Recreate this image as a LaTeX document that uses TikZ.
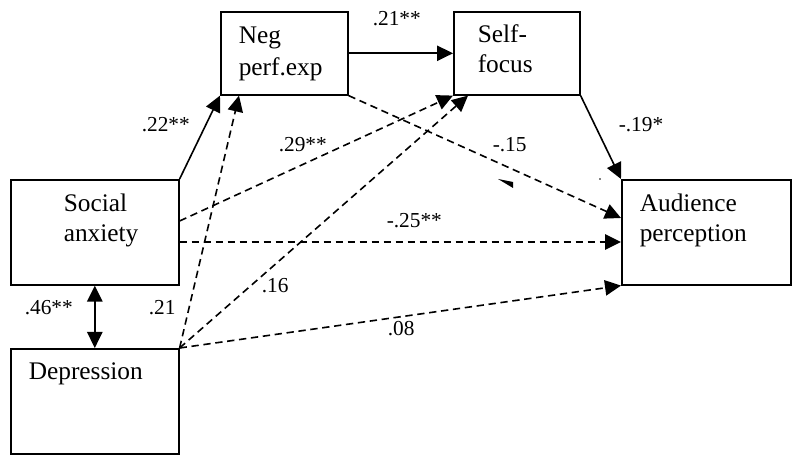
\documentclass[tikz,border=0pt]{standalone}
\usepackage{fontspec}
\setmainfont{Liberation Serif}
\usetikzlibrary{arrows.meta,calc}

\tikzset{every picture/.style={line width=1.2pt}}
\tikzset{
  varbox/.style={draw, inner sep=0pt, anchor=north west},
  boxtext/.style={anchor=base west, inner sep=0pt, align=left, font=\fontsize{19}{23}\selectfont},
  coef/.style={anchor=base west, inner sep=0pt, font=\fontsize{16}{19}\selectfont},
  direct/.style={-{Triangle[length=12pt,width=11.5pt]}},
  indirect/.style={direct, dash pattern={on 5.5pt off 3.5pt}},
}

\begin{document}
\begin{tikzpicture}[x=0.75pt,y=0.75pt,yscale=-1,xscale=1]
\useasboundingbox (0,0) rectangle (800,463);

%Shape: Rectangles
\node [varbox, minimum width=95.25pt, minimum height=62.25pt] (neg) at (220,11) {};
\node [varbox, minimum width=94.5pt, minimum height=62.25pt] (self) at (453,11) {};
\node [varbox, minimum width=126pt, minimum height=78.75pt] (soc) at (10,179) {};
\node [varbox, minimum width=126pt, minimum height=78.75pt] (dep) at (10,348) {};
\node [varbox, minimum width=126.75pt, minimum height=78.75pt] (aud) at (621,179) {};

% Text Node (anchored at baseline of last line)
\node [boxtext, font=\fontsize{19}{24}\selectfont] (negtxt) at (238,76) {Neg\\perf.exp};
% Text Node
\node [boxtext] (selftxt) at (477,73) {Self-\\focus};
% Text Node
\node [boxtext] (soctxt) at (63,242) {Social\\anxiety};
% Text Node
\node [boxtext] (deptxt) at (28,379) {Depression};
% Text Node
\node [boxtext] (audtxt) at (639,242) {Audience\\perception};

%Straight Lines
\draw [direct] (soc.north east) -- (neg.south west);
\draw [direct] (neg.east) -- (self.west);
\draw [direct] (self.south east) -- (aud.north west);
\draw [{Triangle[length=12pt,width=11.5pt]}-{Triangle[length=12pt,width=11.5pt]}] (soc.south) -- (dep.north);
%Straight Lines (dashed)
\draw [indirect] (neg.south east) -- ($(aud.north west)+(0,39)$);
\draw [indirect] ($(soc.north east)+(0,42)$) -- (self.south west);
\draw [indirect] ($(soc.north east)+(0,63)$) -- ($(aud.north west)+(0,63)$);
\draw [indirect] (dep.north east) -- ($(neg.south west)+(19,0)$);
\draw [indirect] (dep.north east) -- ($(self.south west)+(15,0)$);
\draw [indirect] (dep.north east) -- (aud.south west);

%Shape: stray marks
\fill (498,179) -- (513,182) -- (513,188) -- cycle;
\fill (600,179) circle (0.8);

% Text Node
\node [coef] (c22) at (141,132) {.22**};
% Text Node
\node [coef] (c21s) at (372,26) {.21**};
% Text Node
\node [coef] (c29) at (278,152) {.29**};
% Text Node
\node [coef] (c15) at (492,152) {-.15};
% Text Node
\node [coef] (c19) at (618,132) {-.19*};
% Text Node
\node [coef] (c25) at (386,228) {-.25**};
% Text Node
\node [coef] (c08) at (387,335) {.08};
% Text Node
\node [coef] (c16) at (261,293) {.16};
% Text Node
\node [coef] (c21) at (148,315) {.21};
% Text Node
\node [coef] (c46) at (24,315) {.46**};

\end{tikzpicture}
\end{document}
